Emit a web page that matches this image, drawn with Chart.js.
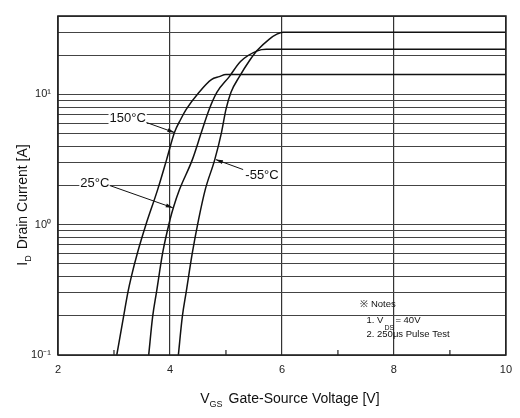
<!DOCTYPE html>
<html>
<head>
<meta charset="utf-8">
<script src="https://cdn.jsdelivr.net/npm/chart.js@4/dist/chart.umd.min.js"></script>
<style>
  body { margin: 0; background: #fff; }
  canvas { display: block; }
</style>
</head>
<body>
<canvas id="chart" width="520" height="418"></canvas>
<script>
// Valeurs (VGS en V, ID en A)
const vgs150 = [3.05, 3.17, 3.25, 3.31, 3.42, 3.57, 3.78, 3.94, 4.08, 4.19, 4.29, 4.52, 4.74, 4.88, 5.0, 10];
const id150 = [0.1, 0.196, 0.305, 0.4, 0.61, 1.0, 1.86, 3.16, 5.1, 6.42, 7.67, 10.4, 13.0, 13.7, 14.2, 14.2];

const vgs25 = [3.62, 3.69, 3.76, 3.87, 4.0, 4.06, 4.17, 4.40, 4.56, 4.70, 4.84, 5.06, 5.26, 5.56, 5.72, 10];
const id25 = [0.1, 0.196, 0.305, 0.61, 1.09, 1.35, 1.86, 3.16, 5.1, 7.67, 10.4, 13.7, 17.9, 21.6, 22.2, 22.2];

const vgs55 = [4.15, 4.22, 4.29, 4.40, 4.51, 4.63, 4.80, 4.92, 5.0, 5.09, 5.24, 5.41, 5.56, 5.77, 5.91, 6.02, 10];
const id55 = [0.1, 0.196, 0.305, 0.61, 1.09, 1.86, 3.16, 5.1, 7.67, 10.4, 13.7, 17.9, 21.8, 26.5, 29, 30, 30];

// Graduations
const yGrid = [0.1, 0.2, 0.3, 0.4, 0.5, 0.6, 0.7, 0.8, 0.9, 1, 2, 3, 4, 5, 6, 7, 8, 9, 10, 20, 30, 40];
const yLabelValues = [0.1, 1, 10];
const yLabelTexts = ['10⁻¹', '10⁰', '10¹'];
const xLabelValues = [2, 4, 6, 8, 10];
const xMinorTicks = [3, 5, 7, 9];

// Etiquettes des courbes : [texte, x texte, y texte, x début trait, y début trait, x pointe, y pointe]
const curveLabels = [
    ['150°C', 3.244, 6.53, 3.58, 6.09, 4.08, 5.1],
    ['25°C', 2.658, 2.07, 2.924, 2.0, 4.05, 1.35],
    ['-55°C', 5.644, 2.38, 5.307, 2.65, 4.82, 3.16]
];

const FONT = "'Liberation Sans', Arial, sans-serif";

function toPoints(xs, ys) {
    return xs.map((x, i) => ({ x: x, y: ys[i] }));
}

const curveStyle = {
    borderColor: '#111',
    borderWidth: 1.5,
    pointRadius: 0,
    fill: false,
    cubicInterpolationMode: 'monotone'
};

// Plugin pour titres, annotations et notes
const decorations = {
    id: 'decorations',
    afterDraw(chart) {
        const ctx = chart.ctx;
        const xs = chart.scales.x;
        const ys = chart.scales.y;
        const area = chart.chartArea;
        ctx.save();

        // petites graduations vers l'intérieur
        ctx.strokeStyle = '#222';
        ctx.lineWidth = 1.2;
        xMinorTicks.forEach(v => {
            const px = xs.getPixelForValue(v);
            ctx.beginPath();
            ctx.moveTo(px, area.bottom);
            ctx.lineTo(px, area.bottom - 5);
            ctx.stroke();
        });

        // cadre
        ctx.lineWidth = 1.6;
        ctx.strokeStyle = '#222';
        ctx.strokeRect(area.left, area.top, area.right - area.left, area.bottom - area.top);

        // étiquettes des courbes avec flèches
        ctx.fillStyle = '#111';
        ctx.strokeStyle = '#111';
        ctx.font = '13px ' + FONT;
        ctx.textAlign = 'center';
        ctx.textBaseline = 'middle';
        curveLabels.forEach(l => {
            const tx = xs.getPixelForValue(l[1]), ty = ys.getPixelForValue(l[2]);
            const sx = xs.getPixelForValue(l[3]), sy = ys.getPixelForValue(l[4]);
            const ex = xs.getPixelForValue(l[5]), ey = ys.getPixelForValue(l[6]);
            ctx.fillStyle = '#fff';
            const w = ctx.measureText(l[0]).width;
            ctx.fillRect(tx - w / 2 - 1, ty - 7, w + 2, 14);
            ctx.fillStyle = '#111';
            ctx.fillText(l[0], tx, ty);
            ctx.lineWidth = 1;
            ctx.beginPath();
            ctx.moveTo(sx, sy);
            ctx.lineTo(ex, ey);
            ctx.stroke();
            const a = Math.atan2(ey - sy, ex - sx);
            ctx.beginPath();
            ctx.moveTo(ex, ey);
            ctx.lineTo(ex - 7 * Math.cos(a) + 2 * Math.sin(a), ey - 7 * Math.sin(a) - 2 * Math.cos(a));
            ctx.lineTo(ex - 7 * Math.cos(a) - 2 * Math.sin(a), ey - 7 * Math.sin(a) + 2 * Math.cos(a));
            ctx.closePath();
            ctx.fill();
        });

        // notes
        ctx.textAlign = 'left';
        ctx.font = '9.5px ' + FONT;
        const nx = xs.getPixelForValue(7.4);
        const n2x = xs.getPixelForValue(7.51);
        ctx.fillText('※ Notes', nx, ys.getPixelForValue(0.243));
        let y2 = ys.getPixelForValue(0.183);
        ctx.fillText('1. V', n2x, y2);
        let w1 = ctx.measureText('1. V').width;
        ctx.font = '7px ' + FONT;
        ctx.fillText('DS', n2x + w1 + 1, y2 + 7);
        ctx.font = '9.5px ' + FONT;
        ctx.fillText('= 40V', n2x + w1 + 12, y2);
        ctx.fillText('2. 250μs Pulse Test', n2x, ys.getPixelForValue(0.145));

        // titre axe X
        ctx.font = '14px ' + FONT;
        ctx.textBaseline = 'alphabetic';
        const xt = 'Gate-Source Voltage [V]';
        const wV = ctx.measureText('V').width;
        ctx.font = '9px ' + FONT;
        const wSub = ctx.measureText('GS').width;
        ctx.font = '14px ' + FONT;
        const wT = ctx.measureText(xt).width;
        const total = wV + wSub + 6 + wT;
        let x0 = (area.left + area.right) / 2 + 8 - total / 2;
        const yb = 403;
        ctx.fillText('V', x0, yb);
        ctx.font = '9px ' + FONT;
        ctx.fillText('GS', x0 + wV, yb + 4);
        ctx.font = '14px ' + FONT;
        ctx.fillText(xt, x0 + wV + wSub + 6, yb);

        // titre axe Y
        ctx.translate(27, 205);
        ctx.rotate(-Math.PI / 2);
        const yt = 'Drain Current [A]';
        ctx.font = '14px ' + FONT;
        const wI = ctx.measureText('I').width;
        const wYT = ctx.measureText(yt).width;
        ctx.font = '9px ' + FONT;
        const wD = ctx.measureText('D').width;
        const totY = wI + wD + 6 + wYT;
        let y0 = -totY / 2;
        ctx.font = '14px ' + FONT;
        ctx.fillText('I', y0, 0);
        ctx.font = '9px ' + FONT;
        ctx.fillText('D', y0 + wI, 4);
        ctx.font = '14px ' + FONT;
        ctx.fillText(yt, y0 + wI + wD + 6, 0);

        ctx.restore();
    }
};

new Chart(document.getElementById('chart'), {
    type: 'line',
    data: {
        datasets: [
            Object.assign({ label: '150°C', data: toPoints(vgs150, id150) }, curveStyle),
            Object.assign({ label: '25°C', data: toPoints(vgs25, id25) }, curveStyle),
            Object.assign({ label: '-55°C', data: toPoints(vgs55, id55) }, curveStyle)
        ]
    },
    options: {
        responsive: false,
        animation: false,
        layout: { padding: { top: 16, right: 12, left: 0, bottom: 0 } },
        plugins: {
            legend: { display: false },
            tooltip: { enabled: false }
        },
        scales: {
            x: {
                type: 'linear',
                min: 2,
                max: 10,
                afterBuildTicks: s => { s.ticks = xLabelValues.map(v => ({ value: v })); },
                afterFit: s => { s.height = 63; },
                ticks: {
                    color: '#222',
                    font: { size: 11, family: FONT },
                    padding: 8,
                    maxRotation: 0
                },
                grid: { color: '#333', lineWidth: 1.2, drawTicks: false },
                border: { display: false }
            },
            y: {
                type: 'logarithmic',
                min: 0.1,
                max: 40,
                afterBuildTicks: s => { s.ticks = yGrid.map(v => ({ value: v })); },
                afterFit: s => { s.width = 58; },
                ticks: {
                    autoSkip: false,
                    color: '#222',
                    font: { size: 11, family: FONT },
                    padding: 7,
                    callback: v => {
                        const i = yLabelValues.findIndex(t => Math.abs(t - v) < 1e-9);
                        return i >= 0 ? yLabelTexts[i] : '';
                    }
                },
                grid: { color: '#444', lineWidth: 1, drawTicks: false },
                border: { display: false }
            }
        }
    },
    plugins: [decorations]
});
</script>
</body>
</html>
